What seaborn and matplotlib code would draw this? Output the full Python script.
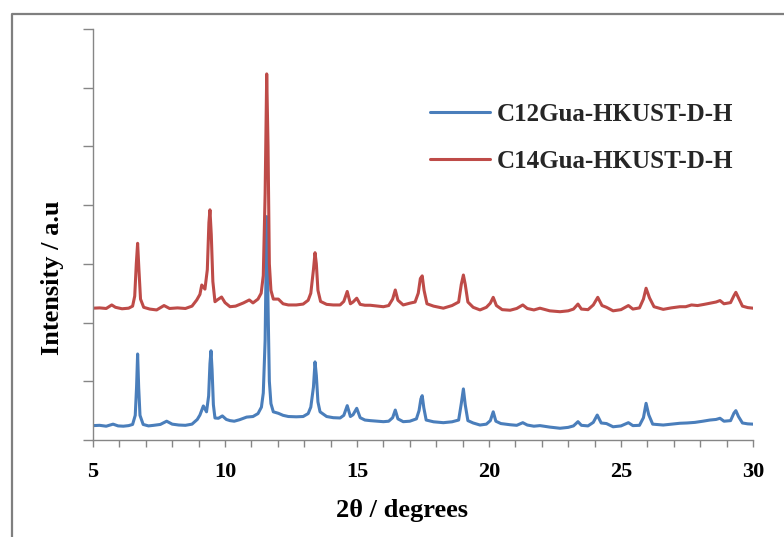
import matplotlib
matplotlib.use("Agg")
import matplotlib.pyplot as plt
from matplotlib.lines import Line2D
from matplotlib.ticker import MultipleLocator, NullFormatter
import pandas as pd
import seaborn as sns

# XRD traces: 2θ (degrees) and intensity (a.u., offset stacked)
c12_two_theta = [5.00, 5.25, 5.50, 5.76, 5.95, 6.15, 6.35, 6.50, 6.60, 6.65, 6.69, 6.73, 6.78, 6.90,
                 7.10, 7.30, 7.55, 7.79, 8.00, 8.25, 8.50, 8.75, 8.95, 9.05, 9.18, 9.30, 9.38, 9.43,
                 9.47, 9.51, 9.56, 9.62, 9.75, 9.90, 10.05, 10.19, 10.35, 10.55, 10.82, 11.06, 11.25,
                 11.38, 11.45, 11.52, 11.58, 11.63, 11.68, 11.74, 11.83, 12.02, 12.20, 12.40, 12.70,
                 12.96, 13.15, 13.25, 13.35, 13.41, 13.46, 13.52, 13.60, 13.85, 14.10, 14.36, 14.50,
                 14.63, 14.75, 14.85, 14.99, 15.12, 15.30, 15.50, 15.80, 16.00, 16.20, 16.35, 16.45,
                 16.55, 16.75, 17.00, 17.25, 17.35, 17.42, 17.47, 17.53, 17.62, 17.90, 18.27, 18.60,
                 18.85, 18.95, 19.03, 19.10, 19.20, 19.40, 19.66, 19.90, 20.05, 20.16, 20.26, 20.45,
                 20.80, 21.05, 21.28, 21.45, 21.70, 21.93, 22.30, 22.69, 23.00, 23.20, 23.37, 23.50,
                 23.75, 23.95, 24.10, 24.25, 24.45, 24.70, 25.00, 25.28, 25.45, 25.70, 25.85, 25.95,
                 26.05, 26.20, 26.60, 26.90, 27.23, 27.50, 27.80, 28.10, 28.37, 28.60, 28.75, 28.90,
                 29.15, 29.28, 29.35, 29.45, 29.60, 29.80, 30.00]
c12_intensity = [245, 250, 235, 270, 240, 235, 245, 265, 420, 900, 1465, 900, 420, 265,
                 240, 250, 265, 320, 270, 255, 250, 270, 350, 425, 580, 480, 750, 1300,
                 1520, 1200, 600, 375, 370, 410, 350, 330, 320, 345, 390, 400, 450,
                 560, 800, 1700, 3805, 2300, 1000, 620, 480, 455, 420, 400, 395,
                 400, 450, 560, 900, 1330, 1100, 650, 480, 400, 380, 375, 420,
                 585, 400, 430, 540, 380, 340, 330, 320, 312, 320, 380, 510,
                 360, 312, 320, 360, 500, 700, 755, 550, 340, 310, 295, 310,
                 340, 620, 870, 600, 330, 290, 255, 270, 330, 480, 320, 280,
                 260, 250, 295, 255, 235, 245, 220, 200, 215, 240, 312, 250,
                 240, 300, 425, 290, 280, 225, 240, 295, 245, 250, 380, 625,
                 430, 270, 255, 270, 285, 290, 300, 320, 340, 350, 370, 320,
                 330, 460, 500, 400, 290, 275, 270]

c14_two_theta = [5.00, 5.25, 5.50, 5.71, 5.85, 6.10, 6.35, 6.50, 6.58, 6.64, 6.69, 6.74, 6.80, 6.92,
                 7.15, 7.41, 7.69, 7.90, 8.20, 8.50, 8.75, 8.93, 9.05, 9.12, 9.24, 9.33, 9.39, 9.43,
                 9.48, 9.54, 9.62, 9.72, 9.87, 10.00, 10.19, 10.40, 10.70, 10.92, 11.06, 11.25, 11.37,
                 11.45, 11.52, 11.58, 11.63, 11.68, 11.74, 11.83, 12.02, 12.20, 12.40, 12.70, 12.96,
                 13.15, 13.25, 13.35, 13.41, 13.46, 13.52, 13.62, 13.85, 14.10, 14.36, 14.50, 14.63,
                 14.75, 14.85, 14.99, 15.12, 15.30, 15.50, 15.80, 16.00, 16.20, 16.35, 16.45, 16.55,
                 16.75, 17.00, 17.20, 17.32, 17.40, 17.47, 17.54, 17.65, 17.90, 18.27, 18.60, 18.85,
                 18.95, 19.03, 19.10, 19.20, 19.40, 19.66, 19.90, 20.05, 20.16, 20.28, 20.50, 20.80,
                 21.05, 21.28, 21.45, 21.70, 21.93, 22.30, 22.69, 23.00, 23.20, 23.37, 23.50, 23.75,
                 23.95, 24.12, 24.28, 24.45, 24.70, 25.00, 25.28, 25.45, 25.70, 25.85, 25.95, 26.08,
                 26.25, 26.60, 26.90, 27.23, 27.45, 27.67, 27.90, 28.15, 28.37, 28.60, 28.75, 28.90,
                 29.15, 29.28, 29.35, 29.45, 29.60, 29.80, 30.00]
c14_intensity = [2245, 2250, 2240, 2300, 2260, 2235, 2245, 2280, 2450, 3000, 3350, 2900, 2400, 2260,
                 2230, 2215, 2290, 2240, 2250, 2240, 2280, 2385, 2480, 2640, 2570, 2900, 3700, 3920,
                 3500, 2700, 2355, 2390, 2435, 2340, 2270, 2280, 2335, 2385, 2335, 2400, 2500,
                 2800, 4200, 6235, 5000, 3000, 2550, 2400, 2400, 2320, 2300, 2300, 2315,
                 2380, 2500, 2900, 3190, 3000, 2550, 2360, 2310, 2300, 2300, 2360, 2530,
                 2320, 2350, 2415, 2310, 2295, 2295, 2280, 2270, 2290, 2400, 2555, 2380,
                 2300, 2330, 2350, 2500, 2750, 2795, 2550, 2320, 2280, 2245, 2290, 2350,
                 2650, 2810, 2650, 2350, 2260, 2215, 2260, 2330, 2430, 2290, 2220, 2210,
                 2240, 2300, 2240, 2215, 2245, 2200, 2185, 2200, 2230, 2315, 2230, 2220,
                 2300, 2430, 2290, 2260, 2200, 2220, 2290, 2230, 2250, 2400, 2585, 2420,
                 2270, 2225, 2250, 2270, 2270, 2300, 2290, 2310, 2330, 2350, 2375, 2320,
                 2340, 2460, 2515, 2420, 2280, 2255, 2245]

series_names = ["C12Gua-HKUST-D-H", "C14Gua-HKUST-D-H"]
series_colors = ["#4a7ebb", "#be4b48"]

df = pd.concat([
    pd.DataFrame({"two_theta": c12_two_theta, "intensity": c12_intensity, "sample": series_names[0]}),
    pd.DataFrame({"two_theta": c14_two_theta, "intensity": c14_intensity, "sample": series_names[1]}),
], ignore_index=True)

sns.set_theme(style="white")
plt.rcParams["font.family"] = ["Liberation Serif", "DejaVu Serif"]
plt.rcParams["font.weight"] = "bold"

fig = plt.figure(figsize=(7.84, 5.37), dpi=100)
ax = fig.add_axes([93 / 784, 1 - 440 / 537, 660 / 784, 411 / 537])

sns.lineplot(data=df, x="two_theta", y="intensity", hue="sample", hue_order=series_names,
             palette=series_colors, estimator=None, sort=False, linewidth=2.2, ax=ax)

ax.set_xlim(5, 30)
ax.set_ylim(0, 7000)

grey = "#868686"
for side in ("top", "right"):
    ax.spines[side].set_visible(False)
for side in ("left", "bottom"):
    ax.spines[side].set_color(grey)
    ax.spines[side].set_linewidth(1.0)

ax.xaxis.set_major_locator(MultipleLocator(5))
ax.xaxis.set_minor_locator(MultipleLocator(1))
ax.yaxis.set_major_locator(MultipleLocator(1000))
ax.yaxis.set_major_formatter(NullFormatter())
ax.tick_params(axis="x", which="both", direction="out", length=5, width=1, color=grey,
               bottom=True, labelsize=16, pad=11, labelcolor="black")
ax.tick_params(axis="y", which="major", direction="out", length=7, width=1, color=grey, left=True)
for lbl in ax.get_xticklabels():
    lbl.set_fontweight("bold")

ax.set_xlabel("2θ / degrees", fontsize=19, fontweight="bold", color="black")
ax.set_ylabel("Intensity / a.u", fontsize=19, fontweight="bold", color="black")
ax.xaxis.set_label_coords(0.468, -0.1435)
ax.yaxis.set_label_coords(-0.044, 0.394)

handles = [Line2D([], [], color=c, linewidth=2.2) for c in series_colors]
ax.legend(handles, series_names, loc="upper left", bbox_to_anchor=(430 / 784, 1 - 103 / 537),
          bbox_transform=fig.transFigure, frameon=False, borderpad=0, borderaxespad=0,
          handlelength=2.4, handletextpad=0.28, labelspacing=0.95,
          prop={"family": "Liberation Serif", "weight": "bold", "size": 18})

# outer chart frame (left and top edges)
fig.add_artist(Line2D([11.5 / 784, 11.5 / 784, 1.0], [0.0, 1 - 13.5 / 537, 1 - 13.5 / 537],
                      transform=fig.transFigure, color="#7f7f7f", linewidth=1.6))

fig.savefig("out.png", dpi=100)
